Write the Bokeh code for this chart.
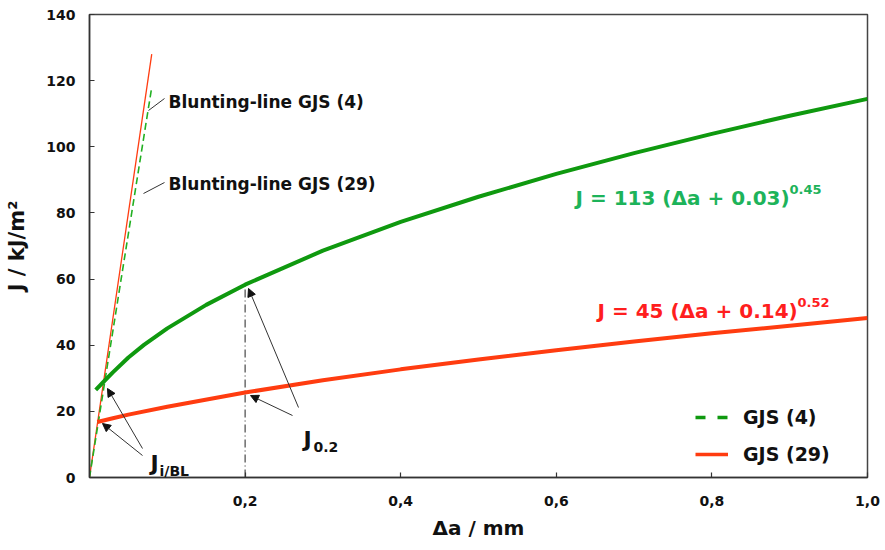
from bokeh.plotting import figure
from bokeh.models import (ColumnDataSource, Label, Arrow, NormalHead, Legend, LegendItem,
                          FixedTicker, CustomJSTickFormatter)
from bokeh.embed import file_html
from bokeh.resources import INLINE

# ---- data ----
da_green = [0.008, 0.02, 0.03, 0.05, 0.07, 0.1, 0.15, 0.2, 0.3, 0.4, 0.5, 0.6, 0.7, 0.8, 0.9, 1.0]
J_green = [26.5, 29.4, 31.8, 36.3, 40.1, 45.1, 52.2, 58.3, 68.6, 77.3, 84.9, 91.8, 98.1, 103.9, 109.4, 114.5]

da_red = [0.01, 0.03, 0.05, 0.1, 0.2, 0.3, 0.4, 0.5, 0.6, 0.7, 0.8, 0.9, 1.0]
J_red = [16.8, 17.9, 19.0, 21.4, 25.7, 29.4, 32.7, 35.7, 38.5, 41.1, 43.6, 45.9, 48.2]

bl_green_x = [0.0, 0.080]
bl_green_y = [0.0, 118.0]
bl_red_x = [0.0, 0.080]
bl_red_y = [0.0, 128.0]

j02_x = [0.2, 0.2]
j02_y = [0.0, 58.3]

x_ticks = [0.2, 0.4, 0.6, 0.8, 1.0]
y_ticks = [0, 20, 40, 60, 80, 100, 120, 140]

series_labels = ["GJS (4)", "GJS (29)"]

GREEN = "#0f990f"
GREEN_TXT = "#1db35a"
RED = "#ff3c10"
RED_TXT = "#ff1e1e"
FONT = "DejaVu Sans"

W, H = 885, 550
L, R, T, B = 89, 18, 14, 73
FW, FH = W - L - R, H - T - B
XMAX, YMAX = 1.0, 140.0


def dx(px):
    return (px - L) / FW * XMAX


def dy(py):
    return (T + FH - py) / FH * YMAX


p = figure(width=W, height=H, x_range=(0, XMAX), y_range=(0, YMAX),
           output_backend="svg", toolbar_location=None,
           min_border_left=L, min_border_right=R, min_border_top=T, min_border_bottom=B)

p.xgrid.visible = False
p.ygrid.visible = False
p.outline_line_color = "#444444"
p.outline_line_width = 1.5

for ax in (p.xaxis[0], p.yaxis[0]):
    ax.axis_line_color = "#333333"
    ax.axis_line_width = 1.5
    ax.major_tick_in = 5
    ax.major_tick_out = 0
    ax.major_tick_line_color = "#333333"
    ax.major_tick_line_width = 1.2
    ax.minor_tick_line_color = None
    ax.major_label_text_font = FONT
    ax.major_label_text_font_style = "bold"
    ax.major_label_text_font_size = "14px"
    ax.major_label_text_color = "#111111"
    ax.axis_label_text_font = FONT
    ax.axis_label_text_font_style = "bold"
    ax.axis_label_text_color = "#111111"

p.xaxis.axis_label_text_font_size = "20px"
p.yaxis.axis_label_text_font_size = "21px"
p.xaxis.ticker = FixedTicker(ticks=x_ticks)
p.xaxis.formatter = CustomJSTickFormatter(code="return tick.toFixed(1).replace('.', ',');")
p.yaxis.ticker = FixedTicker(ticks=y_ticks)
p.xaxis.major_label_standoff = 18
p.yaxis.major_label_standoff = 14
p.xaxis.axis_label = "Δa / mm"
p.yaxis.axis_label = "J / kJ/m²"
p.xaxis.axis_label_standoff = 7
p.yaxis.axis_label_standoff = 14

# blunting lines
p.line(bl_red_x, bl_red_y, line_color=RED, line_width=1.3)
p.line(bl_green_x, bl_green_y, line_color="#22b022", line_width=1.6, line_dash="7 4")

# J0.2 reference line
p.line(j02_x, j02_y, line_color="#222222", line_width=1, line_dash="8 3 1 3")

# R-curves
p.line(da_green, J_green, line_color=GREEN, line_width=4)
p.line(da_red, J_red, line_color=RED, line_width=4)

# legend (style samples; a single NaN point draws nothing in the plot)
src_dummy = ColumnDataSource(dict(x=[float("nan")], y=[float("nan")]))
lg = p.line("x", "y", source=src_dummy, line_color=GREEN, line_width=3.5, line_dash="10 12")
lr = p.line("x", "y", source=src_dummy, line_color=RED, line_width=3.5)
legend = Legend(items=[LegendItem(label=series_labels[0], renderers=[lg]),
                       LegendItem(label=series_labels[1], renderers=[lr])],
                location=(606, 12), padding=0, margin=0, spacing=15,
                glyph_width=33, glyph_height=20, label_height=20, label_standoff=15,
                border_line_alpha=0, background_fill_alpha=0,
                label_text_font=FONT, label_text_font_style="bold",
                label_text_font_size="19px", label_text_color="#111111")
p.add_layout(legend)


def label(text, px, py, size, color="#111111"):
    p.add_layout(Label(x=dx(px), y=dy(py), text=text, text_font=FONT,
                       text_font_style="bold", text_font_size=f"{size}px",
                       text_color=color, text_align="left", text_baseline="alphabetic"))


def arrow(x0, y0, x1, y1, head=True):
    p.add_layout(Arrow(x_start=dx(x0), y_start=dy(y0), x_end=dx(x1), y_end=dy(y1),
                       line_color="#333333", line_width=1,
                       end=NormalHead(size=8, fill_color="#111111", line_color="#111111") if head else None))


label("Blunting-line  GJS (4)", 168, 101, 17)
label("Blunting-line  GJS (29)", 168, 183, 17)
arrow(148, 110, 164, 98, head=False)
arrow(143, 193, 164, 182, head=False)

label("J = 113 (Δa + 0.03)", 575, 197, 20, GREEN_TXT)
label("0.45", 789, 189, 13, GREEN_TXT)
label("J = 45 (Δa + 0.14)", 597, 310, 20, RED_TXT)
label("0.52", 797, 302, 13, RED_TXT)

label("J", 150, 463, 22)
label("i/BL", 159, 470, 14)
label("J", 303, 439, 22)
label("0.2", 313, 446, 14)

arrow(142, 455, 102, 423)
arrow(142, 448, 107, 388)
arrow(298, 407, 248, 288)
arrow(292, 415, 250, 395)

open("out.html", "w").write(file_html(p, INLINE))
